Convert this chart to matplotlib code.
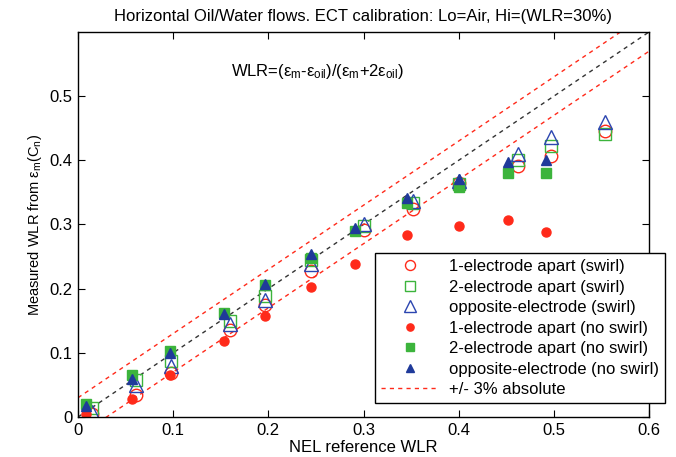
import numpy as np
import matplotlib
matplotlib.use('Agg')
import matplotlib.pyplot as plt

plt.rcParams['font.family'] = ['Liberation Sans', 'DejaVu Sans']
plt.rcParams['mathtext.fontset'] = 'custom'
plt.rcParams['mathtext.rm'] = 'Liberation Sans'
plt.rcParams['mathtext.it'] = 'Liberation Sans'

# swirl series
x_swirl = [0.015, 0.061, 0.098, 0.160, 0.196, 0.245, 0.300, 0.352, 0.400, 0.462, 0.497, 0.554]
y_1e_swirl = [0.005, 0.034, 0.068, 0.135, 0.175, 0.228, 0.291, 0.324, 0.365, 0.391, 0.407, 0.446]
y_2e_swirl = [0.014, 0.058, 0.088, 0.150, 0.188, 0.244, 0.297, 0.333, 0.363, 0.400, 0.423, 0.441]
y_op_swirl = [0.008, 0.050, 0.080, 0.145, 0.183, 0.238, 0.301, 0.336, 0.368, 0.410, 0.436, 0.459]

# no swirl series
x_noswirl = [0.008, 0.057, 0.097, 0.153, 0.197, 0.245, 0.291, 0.346, 0.400, 0.452, 0.492]
y_1e_noswirl = [0.004, 0.028, 0.065, 0.118, 0.158, 0.202, 0.239, 0.283, 0.298, 0.307, 0.288]
y_2e_noswirl = [0.020, 0.065, 0.103, 0.162, 0.205, 0.248, 0.290, 0.334, 0.358, 0.380, 0.380]
y_op_noswirl = [0.017, 0.060, 0.100, 0.160, 0.208, 0.254, 0.295, 0.342, 0.371, 0.398, 0.400]

band = 0.03
ref_x = [0, 0.6]

red = '#ff2a1a'
green = '#3cb43c'
blue = '#2b45b0'
dblue = '#1f3a9a'

fig = plt.figure(figsize=(6.76, 4.57), dpi=100)
ax = fig.add_axes([78/676, 1-417/457, 571/676, 385/457])

ref = np.array(ref_x)
ax.plot(ref, ref, '--', color='#333333', lw=1, dashes=(3, 3))
ax.plot(ref, ref + band, '--', color=red, lw=1, dashes=(3, 3))
l_band, = ax.plot(ref, ref - band, '--', color=red, lw=1, dashes=(3, 3))

h1, = ax.plot(x_swirl, y_1e_swirl, 'o', mfc='none', mec=red, ms=9, mew=1)
h2, = ax.plot(x_swirl, y_2e_swirl, 's', mfc='none', mec=green, ms=9, mew=1)
h3, = ax.plot(x_swirl, y_op_swirl, '^', mfc='none', mec=blue, ms=10, mew=1)
h4, = ax.plot(x_noswirl, y_1e_noswirl, 'o', color=red, mec=red, ms=6.5)
h5, = ax.plot(x_noswirl, y_2e_noswirl, 's', color=green, mec=green, ms=6.5)
h6, = ax.plot(x_noswirl, y_op_noswirl, '^', color=dblue, mec=dblue, ms=7)

ax.set_xlim(0, 0.6)
ax.set_ylim(0, 0.6)
ax.set_xticks([0, 0.1, 0.2, 0.3, 0.4, 0.5, 0.6])
ax.set_xticklabels(['0', '0.1', '0.2', '0.3', '0.4', '0.5', '0.6'])
ax.set_yticks([0, 0.1, 0.2, 0.3, 0.4, 0.5])
ax.set_yticklabels(['0', '0.1', '0.2', '0.3', '0.4', '0.5'])
ax.tick_params(direction='in', top=True, right=True, labelsize=12, length=5, pad=4)
for s in ax.spines.values():
    s.set_linewidth(1)

ax.set_title('Horizontal Oil/Water flows. ECT calibration: Lo=Air, Hi=(WLR=30%)', fontsize=12, pad=8)
ax.set_xlabel('NEL reference WLR', fontsize=12, labelpad=2)
ax.set_ylabel(r'Measured WLR from $\varepsilon_{m}$(C$_{n}$)', fontsize=10.5, labelpad=4)

ax.text(0.252, 0.538, r'WLR=($\varepsilon_{m}$-$\varepsilon_{oil}$)/($\varepsilon_{m}$+2$\varepsilon_{oil}$)',
        fontsize=12, ha='center', va='center')

leg = fig.legend([h1, h2, h3, h4, h5, h6, l_band],
                 ['1-electrode apart (swirl)', '2-electrode apart (swirl)', 'opposite-electrode (swirl)',
                  '1-electrode apart (no swirl)', '2-electrode apart (no swirl)', 'opposite-electrode (no swirl)',
                  '+/- 3% absolute'],
                 loc='lower left', bbox_to_anchor=(375/676, 1-403/457), fontsize=12,
                 frameon=True, fancybox=False, edgecolor='black', framealpha=1,
                 handlelength=3.5, handletextpad=0.6, labelspacing=0.33, borderaxespad=0,
                 borderpad=0.35, markerscale=0.8)
leg.get_frame().set_linewidth(1)

fig.savefig('out.png', dpi=100)
